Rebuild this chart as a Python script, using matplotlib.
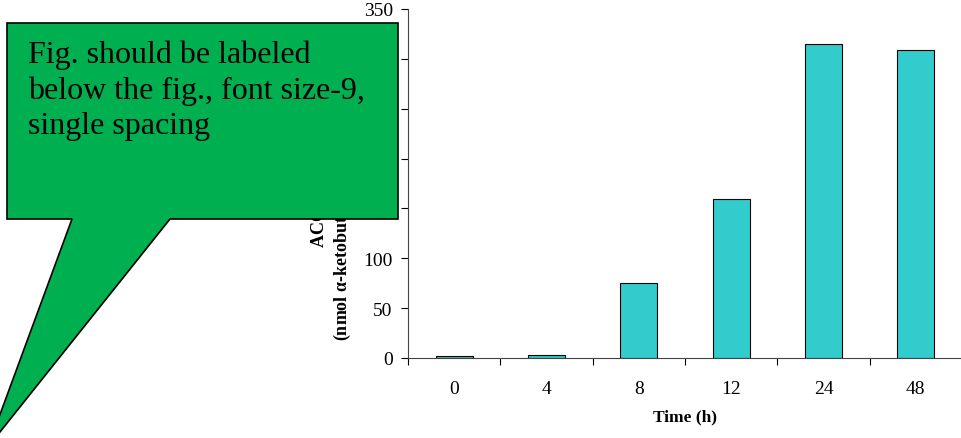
import numpy as np
import matplotlib
matplotlib.use("Agg")
import matplotlib.pyplot as plt
from matplotlib.patches import Polygon

# data
times = ["0", "4", "8", "12", "24", "48"]
acc_activity = [2, 3.5, 75, 159, 315, 309]
yticks = [0, 50, 100, 150, 200, 250, 300, 350]

plt.rcParams['font.family'] = ['Liberation Serif', 'DejaVu Serif']

fig = plt.figure(figsize=(9.62, 4.39), dpi=100)
W, H = 962, 439
ax = fig.add_axes([408 / W, 1 - 359 / H, 554 / W, 349 / H])

x = np.arange(len(times))
ax.bar(x, acc_activity, width=0.4, color="#33CCCC", edgecolor="black", linewidth=0.8)

ax.set_xlim(-0.5, len(times) - 0.5)
ax.set_ylim(0, 350)
ax.set_yticks(yticks)
ax.tick_params(axis="y", labelsize=14, length=5, direction="out", pad=6)

# ticks between categories, labels at the centres
ax.set_xticks(np.arange(len(times) + 1) - 0.5)
ax.set_xticklabels([])
ax.set_xticks(x, minor=True)
ax.set_xticklabels(times, minor=True)
ax.tick_params(axis="x", which="major", length=5, direction="out")
ax.tick_params(axis="x", which="minor", length=0, labelsize=14, pad=16)

for s in ["top", "right"]:
    ax.spines[s].set_visible(False)
for s in ["left", "bottom"]:
    ax.spines[s].set_color("#444444")
    ax.spines[s].set_linewidth(0.8)

ax.set_xlabel("Time (h)", fontsize=12.5, fontweight="bold", labelpad=8)
# y label sits mostly behind the callout, as in the original
ax.set_ylabel("ACC deaminase\n(nmol α-ketobutyrate mg$^{-1}$ protein h$^{-1}$)",
              fontsize=13, fontweight="bold", linespacing=1.1)
ax.yaxis.set_label_coords(-0.100, 0.5)

# callout box on top of the chart
pts = [(7, 24), (398, 24), (398, 220), (170, 220), (-12, 448), (72, 220), (7, 220)]
pts = [(px / W, 1 - py / H) for px, py in pts]
callout = Polygon(pts, closed=True, facecolor="#00B050", edgecolor="black",
                  linewidth=1.2, transform=fig.transFigure, zorder=5)
fig.add_artist(callout)
fig.text(28 / W, 1 - 41 / H,
         "Fig. should be labeled\nbelow the fig., font size-9,\nsingle spacing",
         fontsize=23, va="top", ha="left", linespacing=1.27, zorder=6)

fig.savefig("out.png", dpi=100)
